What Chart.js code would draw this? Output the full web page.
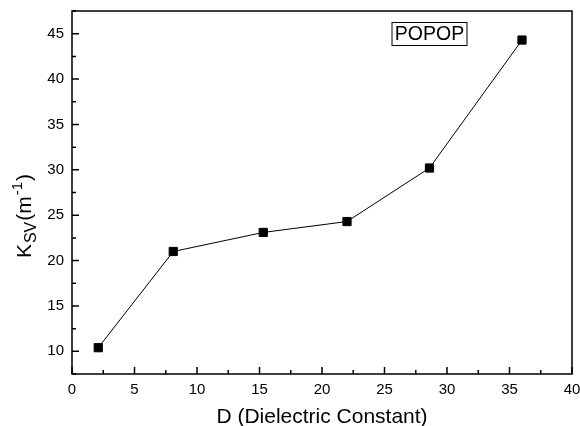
<!DOCTYPE html>
<html>
<head>
<meta charset="utf-8">
<script src="https://cdn.jsdelivr.net/npm/chart.js@4.4.0/dist/chart.umd.min.js"></script>
<style>
  html, body { margin: 0; padding: 0; background: #fff; }
  #wrap { width: 580px; height: 426px; position: relative; }
</style>
</head>
<body>
<div id="wrap"><canvas id="chart"></canvas></div>
<script>
const dielectric = [2.1, 8.1, 15.3, 22.0, 28.6, 36.0];
const ksv = [10.4, 21.0, 23.1, 24.3, 30.2, 44.3];
const xTicks = [0, 5, 10, 15, 20, 25, 30, 35, 40];
const yTicks = [10, 15, 20, 25, 30, 35, 40, 45];
const seriesName = 'POPOP';

const FONT = 'Arial, "Liberation Sans", sans-serif';

function noPad(s) {
  s.paddingTop = 0; s.paddingBottom = 0; s.paddingLeft = 0; s.paddingRight = 0;
}

// frame, inward ticks, axis titles and the boxed label
const decorations = {
  id: 'decorations',
  afterDraw(chart) {
    const ctx = chart.ctx;
    const { left, right, top, bottom } = chart.chartArea;
    const xs = chart.scales.x, ys = chart.scales.y;
    ctx.save();
    ctx.strokeStyle = '#000';

    ctx.lineWidth = 1.5;
    ctx.strokeRect(left, top, right - left, bottom - top);

    ctx.beginPath();
    xTicks.forEach((v, i) => {
      const px = xs.getPixelForValue(v);
      ctx.moveTo(px, bottom); ctx.lineTo(px, bottom - 7);
      if (i < xTicks.length - 1) {
        const m = xs.getPixelForValue(v + 2.5);
        ctx.moveTo(m, bottom); ctx.lineTo(m, bottom - 4);
      }
    });
    yTicks.forEach((v) => {
      const py = ys.getPixelForValue(v);
      ctx.moveTo(left, py); ctx.lineTo(left + 7, py);
    });
    [7.5, 12.5, 17.5, 22.5, 27.5, 32.5, 37.5, 42.5, 47.5].forEach((v) => {
      const py = ys.getPixelForValue(v);
      ctx.moveTo(left, py); ctx.lineTo(left + 4, py);
    });
    ctx.stroke();

    // x title
    ctx.fillStyle = '#000';
    ctx.font = '21px ' + FONT;
    ctx.textAlign = 'center';
    ctx.textBaseline = 'alphabetic';
    ctx.fillText('D (Dielectric Constant)', (left + right) / 2, 423);

    // y title: K_SV(m^-1), rotated
    ctx.save();
    ctx.translate(31, 216);
    ctx.rotate(-Math.PI / 2);
    const parts = [
      { t: 'K', size: 21, dy: 0, gap: 1 },
      { t: 'SV', size: 16, dy: 5, gap: 1 },
      { t: '(m', size: 21, dy: 0, gap: 1 },
      { t: '-1', size: 15, dy: -9, gap: 1 },
      { t: ')', size: 21, dy: 0, gap: 0 }
    ];
    let total = 0;
    parts.forEach(p => { ctx.font = p.size + 'px ' + FONT; total += ctx.measureText(p.t).width + p.gap; });
    let cx = -total / 2;
    ctx.textAlign = 'left';
    parts.forEach(p => {
      ctx.font = p.size + 'px ' + FONT;
      ctx.fillText(p.t, cx, p.dy);
      cx += ctx.measureText(p.t).width + p.gap;
    });
    ctx.restore();

    // boxed label
    ctx.font = '19.5px ' + FONT;
    const w = ctx.measureText(seriesName).width;
    const bx = 392, by = 22.5, bw = 75, bh = 23;
    ctx.lineWidth = 1;
    ctx.strokeRect(bx, by, bw, bh);
    ctx.textAlign = 'center';
    ctx.textBaseline = 'middle';
    ctx.fillText(seriesName, bx + bw / 2, by + bh / 2 + 1);
    ctx.restore();
  }
};

new Chart(document.getElementById('chart'), {
  type: 'line',
  data: {
    datasets: [{
      label: seriesName,
      data: dielectric.map((d, i) => ({ x: d, y: ksv[i] })),
      borderColor: '#000',
      backgroundColor: '#000',
      borderWidth: 1,
      pointStyle: 'rect',
      pointRadius: 5.8,
      pointHoverRadius: 5.8,
      fill: false,
      tension: 0
    }]
  },
  options: {
    responsive: true,
    maintainAspectRatio: false,
    animation: false,
    layout: { padding: { left: 0, top: 11, right: 8, bottom: 0 } },
    plugins: { legend: { display: false }, tooltip: { enabled: false } },
    scales: {
      x: {
        type: 'linear',
        min: 0,
        max: 40,
        afterFit: (s) => { s.height = 52; noPad(s); },
        afterBuildTicks: (s) => { s.ticks = xTicks.map(v => ({ value: v })); },
        grid: { display: false, drawTicks: false },
        border: { display: false },
        ticks: { color: '#000', font: { family: FONT, size: 15 }, padding: 7, maxRotation: 0 }
      },
      y: {
        type: 'linear',
        min: 7.5,
        max: 47.5,
        afterFit: (s) => { s.width = 72; noPad(s); },
        afterBuildTicks: (s) => { s.ticks = yTicks.map(v => ({ value: v })); },
        grid: { display: false, drawTicks: false },
        border: { display: false },
        ticks: { color: '#000', font: { family: FONT, size: 15 }, padding: 8 }
      }
    }
  },
  plugins: [decorations]
});
</script>
</body>
</html>
